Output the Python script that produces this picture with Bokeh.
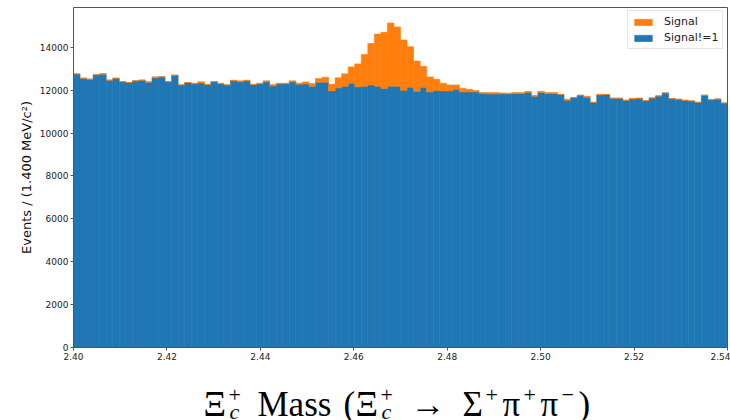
from bokeh.plotting import figure
from bokeh.models import (ColumnDataSource, Range1d, FixedTicker, PrintfTickFormatter,
                          Legend, LegendItem, Label, LinearAxis)
from bokeh.embed import file_html
from bokeh.resources import INLINE

# ---- data -------------------------------------------------------------
x_lo, x_hi, n_bins = 2.40, 2.54, 100

background = [
    12760, 12560, 12515, 12720, 12750, 12470, 12560, 12400, 12360, 12440,
    12470, 12375, 12580, 12625, 12400, 12700, 12250, 12360, 12300, 12340,
    12265, 12400, 12300, 12250, 12440, 12390, 12440, 12265, 12300, 12390,
    12200, 12300, 12300, 12390, 12280, 12300, 12190, 12375, 12375, 11970,
    12110, 12190, 12330, 12160, 12190, 12250, 12190, 12080, 12190, 12190,
    12000, 12140, 11950, 12140, 11920, 11985, 11970, 11970, 12050, 11920,
    11920, 11920, 11860, 11830, 11830, 11830, 11830, 11845, 11845, 11905,
    11720, 11890, 11845, 11845, 11800, 11530, 11655, 11765, 11670, 11435,
    11780, 11800, 11625, 11625, 11530, 11590, 11625, 11515, 11640, 11735,
    11875, 11610, 11580, 11530, 11500, 11435, 11765, 11560, 11590, 11405,
]

signal = [
    0, 0, 0, 0, 30, 0, 0, 0, 0, 0,
    0, 25, 45, 0, 0, 0, 0, 0, 30, 60,
    15, 0, 30, 0, 30, 50, 30, 15, 30, 50,
    65, 30, 30, 50, 50, 90, 120, 170, 235, 310,
    470, 575, 760, 1070, 1480, 1930, 2430, 2620, 2945, 2760,
    2340, 1890, 1410, 980, 700, 530, 360, 280, 200, 175,
    125, 65, 30, 60, 60, 45, 30, 45, 45, 35,
    45, 60, 45, 45, 10, 50, 15, 0, 50, 0,
    30, 0, 0, 0, 0, 35, 0, 0, 0, 0,
    0, 0, 0, 0, 0, 0, 0, 0, 0, 0,
]

x_ticks = [2.40, 2.42, 2.44, 2.46, 2.48, 2.50, 2.52, 2.54]
y_ticks = [0, 2000, 4000, 6000, 8000, 10000, 12000, 14000]
y_max = 15860

width_bin = (x_hi - x_lo) / n_bins
lefts = [x_lo + i * width_bin for i in range(n_bins)]
rights = [x_lo + (i + 1) * width_bin for i in range(n_bins)]
totals = [b + s for b, s in zip(background, signal)]

src = ColumnDataSource(dict(left=lefts, right=rights, bg=background, tot=totals,
                            zero=[0] * n_bins))

BLUE = "#1f77b4"
ORANGE = "#ff7f0e"
SPINE = "#555555"

# ---- layout (pixels): the frame is the whole canvas; the axes box sits at
# x 73..727, y 7..347, and everything else is drawn with fixed-location axes.
W, H = 730, 420
BOX_L, BOX_R, BOX_T, BOX_B = 73, 727, 7, 347
xpp = (x_hi - x_lo) / (BOX_R - BOX_L)
ypp = y_max / (BOX_B - BOX_T)
x_range = Range1d(x_lo - BOX_L * xpp, x_hi + (W - BOX_R) * xpp)
y_range = Range1d(-(H - BOX_B) * ypp, y_max + BOX_T * ypp)

p = figure(width=W, height=H, output_backend="svg", toolbar_location=None,
           x_range=x_range, y_range=y_range, min_border=0)

r_bg = p.quad(left="left", right="right", bottom="zero", top="bg", source=src,
              fill_color=BLUE, line_color=BLUE, line_width=0.6)
r_sig = p.quad(left="left", right="right", bottom="bg", top="tot", source=src,
               fill_color=ORANGE, line_color=ORANGE, line_width=0.6)

p.grid.visible = False
p.outline_line_color = None

for ax in (p.xaxis[0], p.yaxis[0]):
    ax.major_label_text_font = "DejaVu Sans"
    ax.major_label_text_font_size = "9px"
    ax.major_label_text_color = "#222222"
    ax.axis_line_color = SPINE
    ax.major_tick_line_color = SPINE
    ax.major_tick_out = 3
    ax.major_tick_in = 0
    ax.minor_tick_line_color = None
    ax.major_label_standoff = 2

p.xaxis.fixed_location = 0
p.xaxis.bounds = (x_lo, x_hi)
p.xaxis.ticker = FixedTicker(ticks=x_ticks)
p.xaxis.formatter = PrintfTickFormatter(format="%.2f")

p.yaxis.fixed_location = x_lo
p.yaxis.bounds = (0, y_max)
p.yaxis.ticker = FixedTicker(ticks=y_ticks)
p.yaxis.axis_label = "Events / (1.400 MeV/c²)"
p.yaxis.axis_label_text_font = "DejaVu Sans"
p.yaxis.axis_label_text_font_size = "13px"
p.yaxis.axis_label_text_font_style = "normal"
p.yaxis.axis_label_text_color = "#111111"
p.yaxis.axis_label_standoff = 3

# top and right spines
top_ax = LinearAxis(ticker=FixedTicker(ticks=[]), axis_line_color=SPINE,
                    major_label_text_font_size="0px", major_tick_line_color=None,
                    minor_tick_line_color=None, fixed_location=y_max,
                    bounds=(x_lo, x_hi))
right_ax = LinearAxis(ticker=FixedTicker(ticks=[]), axis_line_color=SPINE,
                      major_label_text_font_size="0px", major_tick_line_color=None,
                      minor_tick_line_color=None, fixed_location=x_hi,
                      bounds=(0, y_max))
p.add_layout(top_ax, "above")
p.add_layout(right_ax, "right")

legend = Legend(items=[LegendItem(label="Signal", renderers=[r_sig]),
                       LegendItem(label="Signal!=1", renderers=[r_bg])],
                location=(627, H - 49))
legend.label_text_font = "DejaVu Sans"
legend.label_text_font_size = "11px"
legend.label_text_color = "#222222"
legend.glyph_width = 22
legend.glyph_height = 8
legend.label_height = 13
legend.label_standoff = 10
legend.spacing = 3
legend.padding = 4
legend.margin = 0
legend.border_line_color = "#cccccc"
legend.background_fill_alpha = 0.9
p.add_layout(legend)

# ---- math-style x title built from text pieces -------------------------
SERIF = "Liberation Serif"
BIG, SMALL = "35px", "22px"
base = 16          # baseline, px above canvas bottom
pieces = [
    # (text, x, y, size, style)
    ("Ξ", 203, base, BIG, "normal"),
    ("+", 228, base + 10, SMALL, "normal"),
    ("c", 229, base - 7, SMALL, "italic"),
    ("Mass", 257, base, BIG, "normal"),
    ("(", 343, base, BIG, "normal"),
    ("Ξ", 355, base, BIG, "normal"),
    ("+", 380, base + 10, SMALL, "normal"),
    ("c", 381, base - 7, SMALL, "italic"),
    ("→", 410, base, BIG, "normal"),
    ("Σ", 462, base, BIG, "normal"),
    ("+", 485, base + 10, SMALL, "normal"),
    ("π", 502, base, BIG, "normal"),
    ("+", 523, base + 10, SMALL, "normal"),
    ("π", 540, base, BIG, "normal"),
    ("−", 561, base + 10, SMALL, "normal"),
    (")", 578, base, BIG, "normal"),
]
for txt, xx, yy, size, style in pieces:
    p.add_layout(Label(x=xx, y=yy, x_units="screen", y_units="screen",
                       text=txt, text_font=SERIF, text_font_size=size,
                       text_font_style=style, text_color="#000000",
                       text_baseline="alphabetic", text_align="left"))

open("out.html", "w").write(file_html(p, INLINE))
